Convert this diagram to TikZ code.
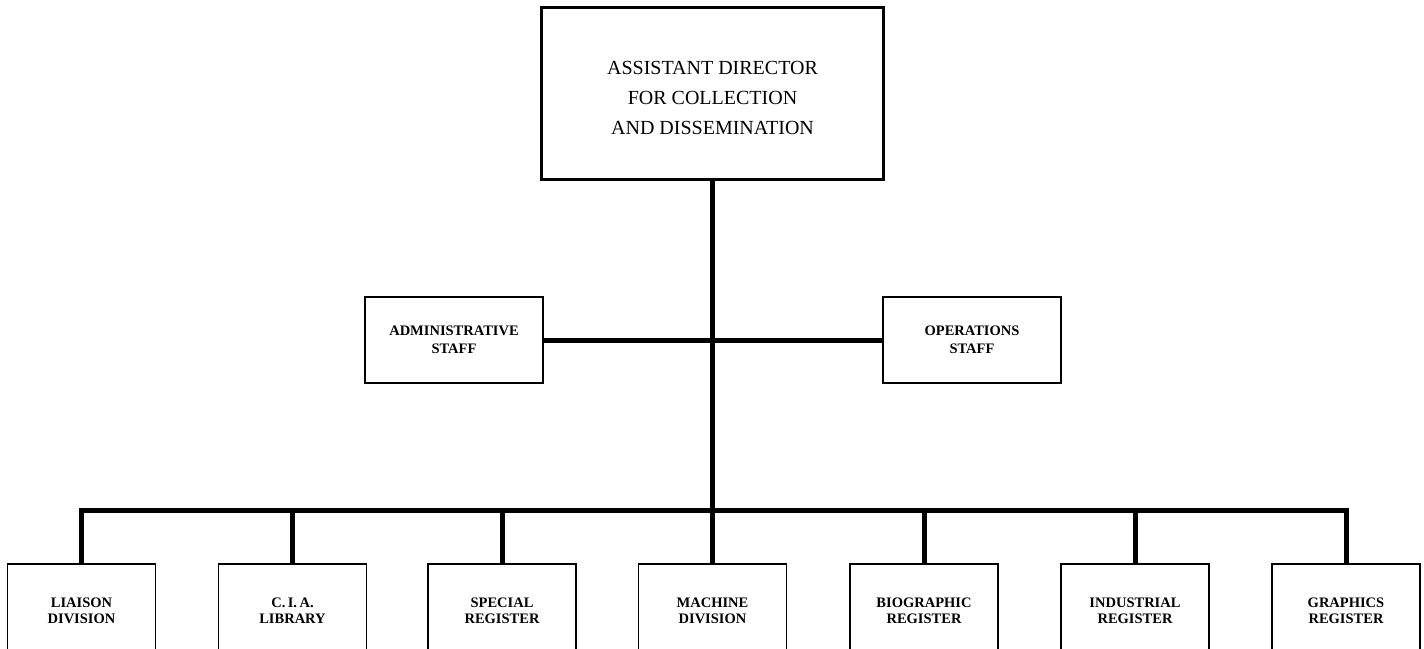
\documentclass[tikz,border=0pt]{standalone}
\usepackage{fontspec}
\setmainfont{Liberation Serif}
\begin{document}
\begin{tikzpicture}[x=1pt,y=-1pt,
  topbox/.style={draw, line width=3pt, inner sep=0pt, align=center,
    minimum width=342pt, minimum height=172pt, font=\fontsize{20}{30}\selectfont},
  midbox/.style={draw, line width=1.8pt, inner sep=0pt, align=center,
    minimum width=178pt, minimum height=86pt, font=\bfseries\fontsize{14.5}{18}\selectfont},
  botbox/.style={draw, line width=1.8pt, inner sep=0pt, align=center,
    minimum width=148pt, minimum height=94pt, font=\bfseries\fontsize{14.5}{16}\selectfont},
  conn/.style={line width=5pt, line join=miter}]
\useasboundingbox (0,0) rectangle (1424,648);
\clip (0,0) rectangle (1424,648);
\fill[white] (0,0) rectangle (1424,648);

\node[topbox] (top) at (712.5,93) {\rule{0pt}{24pt}ASSISTANT DIRECTOR\\FOR COLLECTION\\AND DISSEMINATION};
\node[midbox] (admin) at (454,340) {ADMINISTRATIVE\\STAFF};
\node[midbox] (ops) at (972,340) {OPERATIONS\\STAFF};

\node[botbox] (liaison) at (81.5,611) {LIAISON\\DIVISION};
\node[botbox] (cia) at (292.5,611) {C.\,I.\,A.\\LIBRARY};
\node[botbox] (special) at (502,611) {SPECIAL\\REGISTER};
\node[botbox] (machine) at (712.5,611) {MACHINE\\DIVISION};
\node[botbox] (biographic) at (924,611) {BIOGRAPHIC\\REGISTER};
\node[botbox] (industrial) at (1135,611) {INDUSTRIAL\\REGISTER};
\node[botbox] (graphics) at (1346,611) {GRAPHICS\\REGISTER};

\coordinate (bar) at (712.5,510);

\draw[conn] (top.south) -- (machine.north);
\draw[conn] (admin.east) -- (ops.west);
\draw[conn] (liaison.north) -- (liaison.north |- bar) -- (graphics.north |- bar) -- (graphics.north);
\foreach \n in {cia,special,biographic,industrial}
  \draw[conn] (\n.north |- bar) -- (\n.north);
\end{tikzpicture}
\end{document}
